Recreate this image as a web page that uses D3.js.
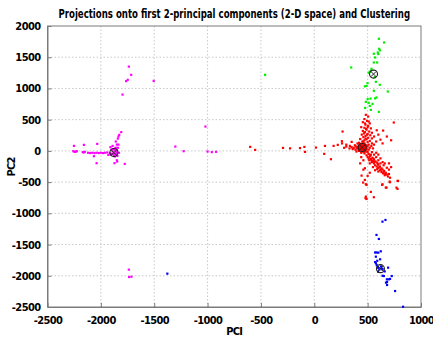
<!DOCTYPE html>
<html>
<head>
<meta charset="utf-8">
<script src="https://cdn.jsdelivr.net/npm/d3@7"></script>
<style>
  html, body { margin: 0; padding: 0; background: #fff; }
  svg { display: block; }
  .tick text { font-family: "DejaVu Sans Condensed", "DejaVu Sans", sans-serif; font-weight: bold; font-size: 11px; letter-spacing: -0.6px; fill: #000; }
</style>
</head>
<body>
<svg id="chart" width="433" height="340"></svg>
<script>
// PCA projection of samples, coloured by cluster
const xTicks = [-2500, -2000, -1500, -1000, -500, 0, 500, 1000];
const yTicks = [-2500, -2000, -1500, -1000, -500, 0, 500, 1000, 1500, 2000];

const magentaPts = [
  [-1738,1350],[-1716,1218],[-1748,1138],[-1763,1117],[-1505,1121],[-1797,902],
  [-1809,300],[-1828,256],[-1841,197],[-1850,101],[-1860,150],[-1835,230],
  [-1302,69],[-1224,-5],[-1020,390],[-1000,-10],[-960,-20],[-920,-15],
  [-2252,80],[-2159,96],[-2034,112],[-2246,-16],[-2258,-5],[-2235,-10],[-2225,-5],
  [-2170,-20],[-2160,-25],[-2150,-15],[-2120,-30],[-2100,-35],[-2080,-30],
  [-2060,-35],[-2040,-30],[-2020,-35],[-2000,-30],[-1980,-35],[-1960,-30],
  [-1940,-25],[-1930,-64],[-1915,-40],[-2065,-85],[-2040,-197],[-1872,-197],
  [-1847,-171],[-1850,-150],[-1776,-208],[-1910,60],[-1890,80],[-1860,50],[-1835,100],
  [-1890,-10],[-1880,-40],[-1870,10],[-1860,-50],[-1850,20],[-1875,-70],
  [-1895,-50],[-1865,40],[-1855,-20],[-1845,-80],[-1900,20],[-1885,30],
  [-1870,-90],[-1840,50],[-1830,-30],[-1905,-60],[-1738,-1902],[-1735,-2020],[-1713,-2015]
];

const redPts = [
  [470,510],[495,480],[455,460],[520,440],[480,420],[505,400],[440,380],[470,370],
  [530,360],[490,340],[455,320],[515,310],[475,300],[540,290],[500,270],[445,260],
  [525,250],[480,240],[560,230],[460,220],[505,210],[540,200],[430,190],[490,185],
  [470,170],[520,160],[450,150],[580,150],[500,140],[420,130],[470,120],[540,120],
  [440,110],[510,100],[645,325],[745,454],[600,260],[680,230],[720,170],[640,120],
  [620,180],[585,330],[483,577],[505,550],[265,310],[259,155],[350,144],[334,80],
  [220,96],[181,80],[100,80],[16,53],[-93,64],[93,-48],[156,-133],[260,120],[300,100],
  [-601,64],[-554,16],[-293,48],[-227,40],[-134,45],[-87,-16],
  [440,50],[450,60],[430,40],[460,70],[420,30],[470,40],[445,80],[435,20],[455,30],
  [410,60],[465,90],[425,70],[480,60],[400,40],[450,10],[440,100],[460,-10],[420,0],
  [490,30],[475,100],[390,70],[430,110],[500,70],[415,90],[455,120],[385,20],[370,50],
  [470,-20],[440,-30],[510,20],[395,-10],[360,30],[350,60],[380,90],[405,120],
  [495,-10],[520,50],[535,80],[550,40],[560,100],[330,40],[300,70],[280,50],
  [435,65],[455,45],[445,35],[425,55],[465,55],[450,85],[430,90],[410,45],[460,20],
  [475,75],[485,45],[415,15],[445,-10],[470,5],[490,90],[460,150],[480,200],[495,260],
  [465,280],[485,350],[500,380],[475,440],[510,470],
  [480,0],[500,-20],[470,-40],[510,-50],[490,-70],[530,-60],[520,-90],[500,-100],
  [545,-110],[530,-130],[560,-140],[515,-150],[550,-160],[575,-170],[540,-180],
  [590,-190],[560,-200],[600,-220],[570,-230],[585,-250],[615,-250],[600,-270],
  [630,-280],[590,-290],[640,-300],[615,-310],[655,-320],[630,-340],[670,-350],
  [645,-360],[680,-380],[660,-390],[690,-410],[700,-370],[710,-430],[620,-200],
  [650,-230],[580,-100],[600,-150],[640,-180],[680,-270],[560,-60],[620,-120],
  [660,-200],[700,-300],[540,-20],[580,-30],[600,-60],[520,-200],[550,-260],
  [570,-310],[600,-330],[700,-200],[720,-260],[525,-75],[555,-125],[565,-175],
  [595,-215],[610,-265],[625,-300],[650,-340],[665,-370],[535,-150],[510,-120],
  [440,-100],[460,-150],[430,-200],[474,-278],[460,-300],[443,-396],[474,-465],
  [458,-507],[483,-534],[490,-545],[530,-657],[480,-758],[483,-732],[490,-770],
  [558,-742],[636,-545],[708,-502],[780,-481],[780,-609],[670,-588],[707,-492],
  [785,-481],[639,-534],[677,-588],[770,-588],[500,-400],[520,-350]
];

const greenPts = [
  [605,1795],[654,1736],[608,1635],[615,1610],[595,1576],[600,1550],[558,1555],
  [570,1496],[558,1416],[589,1416],[346,1336],[536,1314],[520,1266],[510,1250],
  [530,1280],[567,1181],[577,1106],[499,1085],[474,1034],[490,1040],[614,1058],
  [558,962],[689,951],[583,855],[570,840],[527,838],[500,830],[483,785],[510,770],
  [546,753],[520,720],[477,689],[530,657],[605,625],[-461,1218]
];

const bluePts = [
  [639,-1133],[667,-1106],[583,-1346],[605,-1410],[570,-1627],[585,-1627],[623,-1608],
  [600,-1630],[577,-1694],[617,-1736],[570,-1780],[578,-1800],[585,-1830],[595,-1860],
  [600,-1875],[610,-1900],[630,-1880],[640,-1895],[692,-1870],[652,-2004],[640,-2000],
  [726,-2004],[698,-2057],[680,-2057],[710,-2050],[682,-2100],[672,-2110],[682,-2148],
  [757,-2244],[832,-2496],[-1377,-1966],[590,-1760],[625,-1850],[598,-1934],[660,-1930]
];

const centroids = [[-1878,-27],[449,55],[555,1230],[620,-1886]];

const svg = d3.select("#chart");
const plot = { left: 47.5, right: 421, top: 26, bottom: 307 };

const x = d3.scaleLinear().domain([-2500, 1000]).range([plot.left, plot.right]);
const y = d3.scaleLinear().domain([-2500, 2000]).range([plot.bottom, plot.top]);

// dotted grid
const grid = svg.append("g");
grid.selectAll(".gx").data(xTicks.slice(1, -1)).join("line")
  .attr("x1", d => x(d)).attr("x2", d => x(d))
  .attr("y1", plot.top).attr("y2", plot.bottom)
  .attr("stroke", "#c8c8c8").attr("stroke-width", 1).attr("stroke-dasharray", "1.5,2");
grid.selectAll(".gy").data(yTicks.slice(1, -1)).join("line")
  .attr("x1", plot.left).attr("x2", plot.right)
  .attr("y1", d => y(d)).attr("y2", d => y(d))
  .attr("stroke", "#c8c8c8").attr("stroke-width", 1).attr("stroke-dasharray", "1.5,2");

// box
svg.append("rect")
  .attr("x", plot.left).attr("y", plot.top)
  .attr("width", plot.right - plot.left).attr("height", plot.bottom - plot.top)
  .attr("fill", "none").attr("stroke", "#7a7a7a").attr("stroke-width", 1);

// axes with inward ticks
const xAxis = d3.axisBottom(x).tickValues(xTicks).tickSizeInner(-4).tickSizeOuter(0).tickPadding(9).tickFormat(d3.format("d"));
const yAxis = d3.axisLeft(y).tickValues(yTicks).tickSizeInner(-4).tickSizeOuter(0).tickPadding(7).tickFormat(d3.format("d"));

const gx = svg.append("g").attr("transform", `translate(0,${plot.bottom})`).call(xAxis);
const gy = svg.append("g").attr("transform", `translate(${plot.left},0)`).call(yAxis);
[gx, gy].forEach(g => {
  g.select(".domain").attr("stroke", "#7a7a7a");
  g.selectAll(".tick line").attr("stroke", "#7a7a7a");
  g.selectAll(".tick text").text(d => d3.format("d")(d).replace("−", "-"));
});

// cluster points
const groups = [
  { pts: magentaPts, color: "#ff00ff" },
  { pts: redPts, color: "#ff0000" },
  { pts: greenPts, color: "#00ee00" },
  { pts: bluePts, color: "#0000ff" }
];
const s = 2.2;
groups.forEach(gr => {
  svg.append("g").selectAll("rect").data(gr.pts).join("rect")
    .attr("x", d => x(d[0]) - s / 2).attr("y", d => y(d[1]) - s / 2)
    .attr("width", s).attr("height", s).attr("fill", gr.color);
});

// centroids: circle with cross
const cg = svg.append("g").selectAll("g").data(centroids).join("g")
  .attr("transform", d => `translate(${x(d[0])},${y(d[1])})`);
cg.append("circle").attr("r", 4).attr("fill", "none").attr("stroke", "#222").attr("stroke-width", 1.1);
cg.append("path").attr("d", "M-2.6,-2.6L2.6,2.6M-2.6,2.6L2.6,-2.6").attr("stroke", "#222").attr("stroke-width", 1);

// title: condensed horizontally to span the plot width
const titleWidth = 352;
const cx = (plot.left + plot.right) / 2;
const title = svg.append("text")
  .attr("x", 0).attr("y", 0)
  .attr("text-anchor", "middle")
  .attr("font-family", "'DejaVu Sans Condensed', 'DejaVu Sans', sans-serif")
  .attr("font-weight", "bold").attr("font-size", 12.5)
  .text("Projections onto first 2-principal components (2-D space) and Clustering");
const natural = title.node().getComputedTextLength();
title.attr("transform", `translate(${cx},18) scale(${titleWidth / natural},1)`);

svg.append("text")
  .attr("x", cx).attr("y", 335)
  .attr("text-anchor", "middle")
  .attr("font-family", "'DejaVu Sans Condensed', sans-serif").attr("font-weight", "bold")
  .attr("font-size", 11).attr("letter-spacing", -0.8)
  .text("PCI");

svg.append("text")
  .attr("transform", `translate(15,167) rotate(-90)`)
  .attr("text-anchor", "middle")
  .attr("font-family", "'DejaVu Sans Condensed', sans-serif").attr("font-weight", "bold")
  .attr("font-size", 11).attr("letter-spacing", -0.8)
  .text("PC2");
</script>
</body>
</html>
